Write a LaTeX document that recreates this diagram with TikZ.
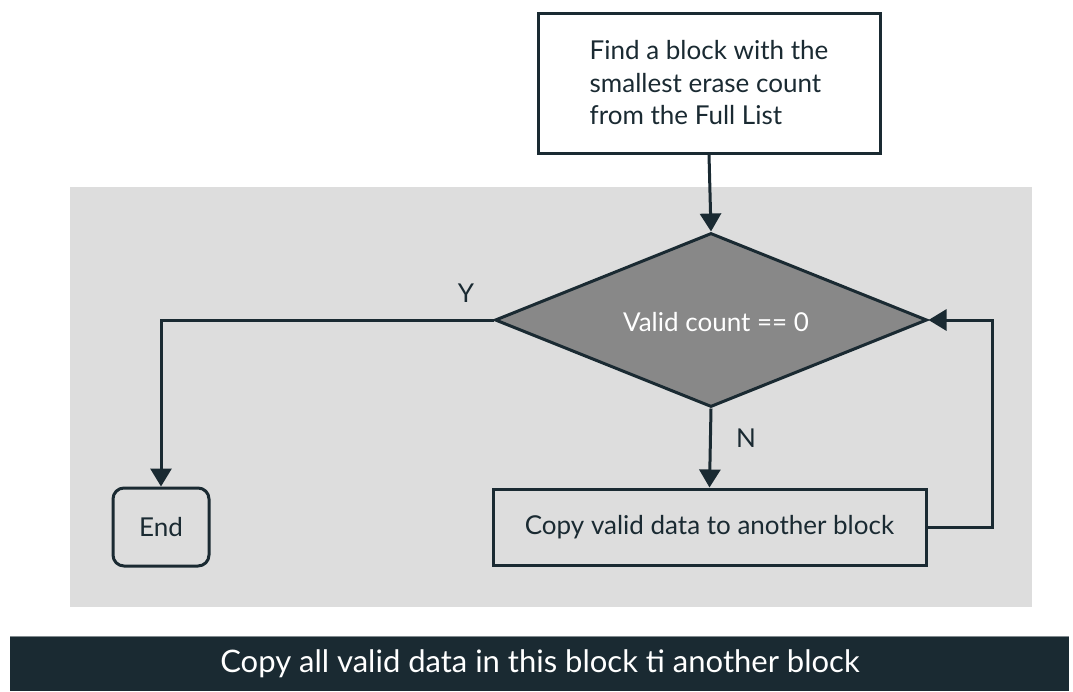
\documentclass[tikz,border=0pt]{standalone}
\usepackage{fontspec}
\setmainfont{Lato}
\usetikzlibrary{arrows.meta,shapes.geometric}
\definecolor{ink}{HTML}{1A2A32}
\definecolor{panel}{HTML}{DDDDDD}
\definecolor{dia}{HTML}{888888}
\begin{document}
\begin{tikzpicture}[x=1pt,y=-1pt,
  txt/.style={font=\fontsize{26}{32.5}\selectfont, text=ink},
  boxstyle/.style={draw=ink, line width=3pt, inner sep=0pt, txt},
  conn/.style={draw=ink, line width=3pt, -{Triangle[width=21pt,length=18pt]}}
]
\useasboundingbox (0,0) rectangle (1073,691);
% panel
\fill[panel] (70,187) rectangle (1032,607);
% banner
\fill[ink] (10,636) rectangle (1069,691);
\draw[color=ink!55!white, line width=1pt] (10,636.5) -- (1069,636.5);
\node[font=\fontsize{31}{34}\selectfont, text=white] (banner) at (540,664) {Copy all valid data in this block ti another block};
% nodes
\node[boxstyle, fill=white, minimum width=342pt, minimum height=140pt, align=left] (find) at (709,83)
  {Find a block with the\\smallest erase count\\from the Full List};
\node[diamond, draw=ink, fill=dia, line width=3pt, inner sep=0pt, minimum width=432pt, minimum height=174pt] (dec) at (711,320) {};
\node[font=\fontsize{26}{30}\selectfont, text=white] (dectext) at (716,322) {Valid count == 0};
\node[boxstyle, minimum width=433pt, minimum height=76pt] (copy) at (709.5,527) {Copy valid data to another block};
\node[boxstyle, rounded corners=11pt, minimum width=96pt, minimum height=78pt] (end) at (161,527) {End};
\coordinate (yc) at (161,320);
\coordinate (rc) at (992,320);
\coordinate (rb) at (992,527);
% connectors
\draw[conn] (find.south) -- (dec.north);
\draw[conn] (dec.west) -- (yc) -- (end.north);
\draw[conn] (dec.south) -- (copy.north);
\draw[conn] (copy.east) -- (rb) -- (rc) -- (dec.east);
% labels
\node[txt] (ylab) at (466,293) {Y};
\node[txt] (nlab) at (746,438) {N};
\end{tikzpicture}
\end{document}
